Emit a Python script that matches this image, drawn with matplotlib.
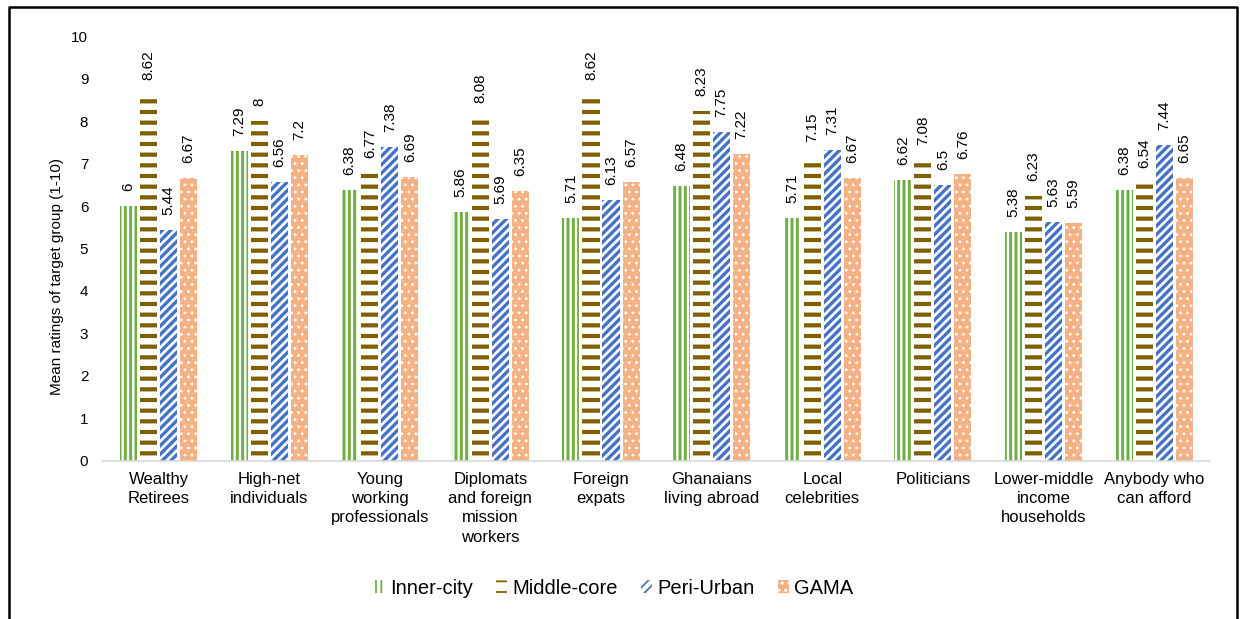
import matplotlib
matplotlib.use("Agg")
import matplotlib.pyplot as plt
import numpy as np
from matplotlib.lines import Line2D

plt.rcParams['font.family'] = ['Liberation Sans', 'DejaVu Sans']

categories = ["Wealthy\nRetirees", "High-net\nindividuals", "Young\nworking\nprofessionals",
              "Diplomats\nand foreign\nmission\nworkers", "Foreign\nexpats",
              "Ghanaians\nliving abroad", "Local\ncelebrities", "Politicians",
              "Lower-middle\nincome\nhouseholds", "Anybody who\ncan afford"]
series_names = ["Inner-city", "Middle-core", "Peri-Urban", "GAMA"]
inner_city = [6, 7.29, 6.38, 5.86, 5.71, 6.48, 5.71, 6.62, 5.38, 6.38]
middle_core = [8.62, 8, 6.77, 8.08, 8.62, 8.23, 7.15, 7.08, 6.23, 6.54]
peri_urban = [5.44, 6.56, 7.38, 5.69, 6.13, 7.75, 7.31, 6.5, 5.63, 7.44]
gama = [6.67, 7.2, 6.69, 6.35, 6.57, 7.22, 6.67, 6.76, 5.59, 6.65]
yticks = list(range(0, 11))

DPI = 128
# sizes below are written as if for a 100 dpi canvas
S = 100 / DPI
PT = 72 / DPI  # points per pixel

# fill colour, hatch colour, hatch pattern, hatch line width (pixels)
styles = [
    dict(face="white", edge="#70AD47", hatch="||||", hlw=3.0),
    dict(face="white", edge="#7F6000", hatch="--", hlw=4.2),
    dict(face="white", edge="#4472C4", hatch="/////", hlw=3.3),
    dict(face="#F4B183", edge="white", hatch="...", hlw=1.4),
]

fig = plt.figure(figsize=(1241 / DPI, 619 / DPI), dpi=DPI)
ax = fig.add_axes([0.0832, 0.2553, 0.8913, 0.6865])

x = np.arange(len(categories))
pitch = 0.181
width = 0.154
values = [inner_city, middle_core, peri_urban, gama]

handles = []
for i, (name, vals, st) in enumerate(zip(series_names, values, styles)):
    with plt.rc_context({'hatch.linewidth': st['hlw'] * PT}):
        bars = ax.bar(x + (i - 1.5) * pitch, vals, width, facecolor=st['face'],
                      edgecolor=st['edge'], hatch=st['hatch'], linewidth=0, label=name)
    handles.append(bars)
    for xi, v in zip(x + (i - 1.5) * pitch, vals):
        ax.annotate(f"{v:g}", xy=(xi, v), xytext=(0, 15), textcoords="offset pixels",
                    rotation=90, ha="center", va="bottom", fontsize=11 * S,
                    color="#000000")

ax.set_xlim(-0.5, len(categories) - 0.5)
ax.set_ylim(0, 10)
ax.set_yticks(yticks)
ax.tick_params(axis="y", length=0, labelsize=11 * S, pad=10.8 * S)
ax.set_xticks(x)
ax.set_xticklabels(categories, fontsize=12 * S, linespacing=1.35)
ax.tick_params(axis="x", length=0, pad=8 * S)
for s in ["top", "right", "left"]:
    ax.spines[s].set_visible(False)
ax.spines["bottom"].set_color("#D9D9D9")
ax.spines["bottom"].set_linewidth(1.2 * S)
ax.set_ylabel("Mean ratings of target group (1-10)", fontsize=11 * S, labelpad=5 * S)
ax.yaxis.label.set_y(0.435)

leg = fig.legend(handles=handles, labels=series_names, loc="center",
                 bbox_to_anchor=(0.4944, 0.05), ncol=4, frameon=False,
                 fontsize=14.5 * S, handlelength=0.55, handleheight=0.6,
                 handletextpad=0.25, columnspacing=1.15)

# outer frame (left, top, right)
fig.add_artist(Line2D([0.0072, 0.0072, 0.9968, 0.9968], [0.0, 0.9887, 0.9887, 0.0],
                      transform=fig.transFigure, color="black", linewidth=1.8 * S))

fig.savefig("out.png", dpi=DPI, facecolor="white")
